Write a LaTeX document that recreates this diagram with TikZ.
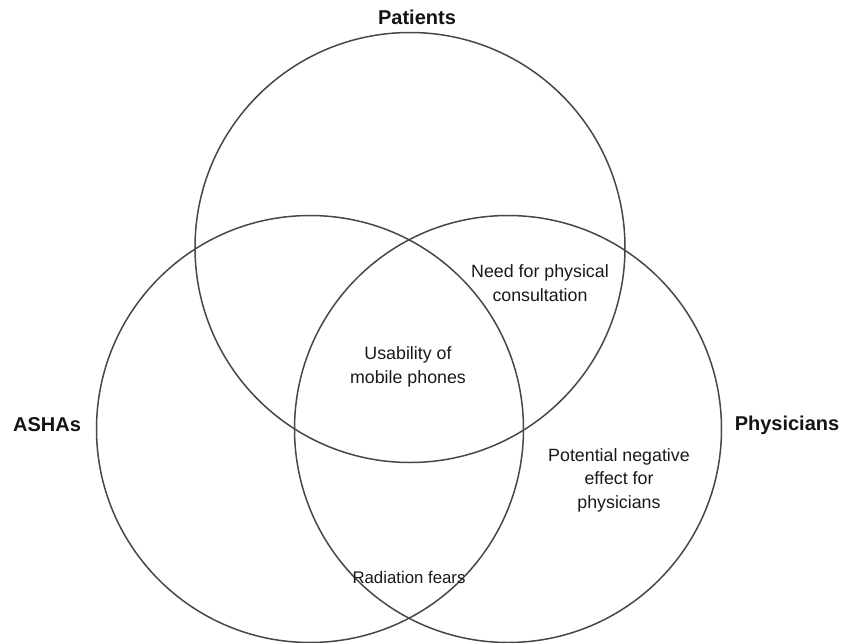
\documentclass[tikz,border=0pt]{standalone}
\usepackage{fontspec}
\setmainfont{Liberation Sans}
\begin{document}
\begin{tikzpicture}[x=1pt,y=-1pt,
  ring/.style={draw=black!72,line width=1.5pt},
  setlabel/.style={font=\fontsize{20}{24}\selectfont\bfseries,text=black!92},
  zonetext/.style={font=\fontsize{17.8}{23.5}\selectfont,align=center,text=black!90}]
\useasboundingbox (0,0) rectangle (855,643);
\draw[ring] (410,247.5) circle (215);
\draw[ring] (310,429) circle (213.5);
\draw[ring] (508,429) circle (213.5);
\node[setlabel] (pat) at (417,17) {Patients};
\node[setlabel] (asha) at (47,425) {ASHAs};
\node[setlabel] (phy) at (787,425) {Physicians};
\node[zonetext] (need) at (540,283) {Need for physical\\consultation};
\node[zonetext] (usab) at (408,367) {Usability of\\mobile phones};
\node[zonetext] (pot) at (619,480) {Potential negative\\effect for\\physicians};
\node[zonetext,font=\fontsize{16.8}{22}\selectfont] (rad) at (409,577) {Radiation fears};
\end{tikzpicture}
\end{document}
